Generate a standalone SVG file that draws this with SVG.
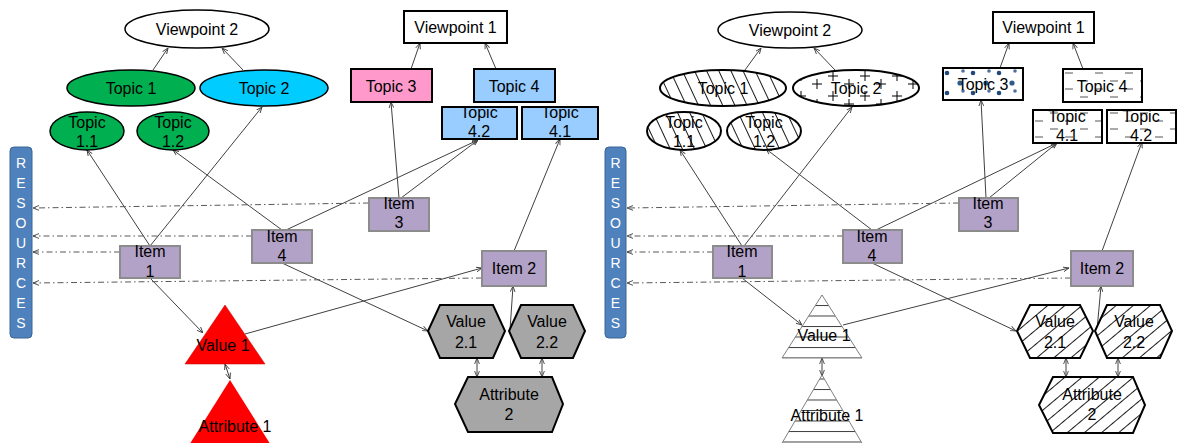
<svg xmlns="http://www.w3.org/2000/svg" width="1177" height="443" viewBox="0 0 1177 443">
<style>
.t{font-family:"Liberation Sans",Arial,sans-serif;font-size:16px;fill:#000;text-anchor:middle}
.r{font-family:"Liberation Sans",Arial,sans-serif;font-size:14px;fill:#fff;text-anchor:middle}
.c{stroke:#404040;stroke-width:1;fill:none;marker-end:url(#ah)}
.b{stroke:#404040;stroke-width:1;fill:none;marker-end:url(#ah);marker-start:url(#ah)}
.d{stroke:#595959;stroke-width:1;fill:none;stroke-dasharray:6 3 1.5 3;marker-end:url(#ah)}
.k{stroke:#000;stroke-width:2}
.k1{stroke:#000;stroke-width:1.5}
.item{fill:#B3A2C7;stroke:#8C8C8C;stroke-width:2}
.res{fill:#4F81BD;stroke:#3A6496;stroke-width:1}
.gr{fill:#A6A6A6;stroke:#000;stroke-width:2}
.tri{stroke:#7F7F7F;stroke-width:1}
</style>
<defs>
<marker id="ah" viewBox="0 0 10 10" refX="10" refY="5" markerWidth="6" markerHeight="6" orient="auto-start-reverse" markerUnits="userSpaceOnUse"><path d="M0,1 L10,5 L0,9" fill="none" stroke="#404040" stroke-width="1.5"/></marker>
<pattern id="hb" width="11" height="11" patternUnits="userSpaceOnUse" patternTransform="rotate(-25)"><rect width="11" height="11" fill="#fff"/><line x1="5.5" y1="0" x2="5.5" y2="11" stroke="#000" stroke-width="0.9"/></pattern>
<pattern id="hf" width="11" height="11" patternUnits="userSpaceOnUse" patternTransform="rotate(50)"><rect width="11" height="11" fill="#fff"/><line x1="5.5" y1="0" x2="5.5" y2="11" stroke="#000" stroke-width="0.9"/></pattern>
<pattern id="plus" width="32" height="20" patternUnits="userSpaceOnUse" x="795" y="70"><rect width="32" height="20" fill="#fff"/><path d="M6,1v10M1,6h10M22,9v10M17,14h10" stroke="#000" stroke-width="1"/></pattern>
<pattern id="dots" width="26" height="20" patternUnits="userSpaceOnUse" x="943" y="68"><rect width="26" height="20" fill="#fff"/><circle cx="4" cy="5" r="2.3" fill="#1F497D"/><circle cx="17" cy="15" r="2.6" fill="#2E5C8A"/><circle cx="20" cy="3" r="1.8" fill="#4F6FA0"/></pattern>
<pattern id="dash" width="30" height="16" patternUnits="userSpaceOnUse" x="1063" y="69"><rect width="30" height="16" fill="#fff"/><path d="M2,4h8M17,12h8" stroke="#555" stroke-width="1"/></pattern>
<pattern id="hl" width="20" height="10.5" patternUnits="userSpaceOnUse" y="0.5"><rect width="20" height="10.5" fill="#fff"/><line x1="0" y1="0.5" x2="20" y2="0.5" stroke="#404040" stroke-width="1"/></pattern>
</defs>

<g id="connectors">
<line class="c" x1="153" y1="70" x2="168" y2="48"/>
<line class="c" x1="243" y1="70" x2="222" y2="48"/>
<line class="c" x1="411" y1="69" x2="420" y2="43"/>
<line class="c" x1="496" y1="69" x2="485" y2="43"/>
<line class="c" x1="150" y1="246" x2="87" y2="150"/>
<line class="c" x1="150" y1="246" x2="262" y2="107"/>
<line class="c" x1="282" y1="230" x2="173" y2="150"/>
<line class="c" x1="286" y1="230" x2="478" y2="140"/>
<line class="c" x1="399" y1="198" x2="391" y2="102"/>
<line class="c" x1="401" y1="198" x2="478" y2="140"/>
<line class="c" x1="514" y1="251" x2="560" y2="139"/>
<line class="c" x1="150" y1="278" x2="203" y2="333"/>
<line class="c" x1="245" y1="334" x2="482" y2="268"/>
<line class="c" x1="282" y1="263" x2="428" y2="331"/>
<line class="c" x1="510" y1="330" x2="513" y2="286"/>
<line class="b" x1="225" y1="364" x2="230" y2="379"/>
<line class="b" x1="477" y1="358" x2="477" y2="377"/>
<line class="b" x1="542" y1="358" x2="542" y2="377"/>
<line class="d" x1="369" y1="203" x2="33" y2="208"/>
<line class="d" x1="252" y1="236" x2="33" y2="236"/>
<line class="d" x1="120" y1="252" x2="33" y2="252"/>
<line class="d" x1="482" y1="278" x2="33" y2="283"/>

<line class="c" x1="745" y1="70" x2="761" y2="48"/>
<line class="c" x1="835" y1="70" x2="814" y2="48"/>
<line class="c" x1="1000" y1="68" x2="1009" y2="43"/>
<line class="c" x1="1083" y1="69" x2="1073" y2="43"/>
<line class="c" x1="742" y1="246" x2="680" y2="150"/>
<line class="c" x1="744" y1="246" x2="852" y2="107"/>
<line class="c" x1="872" y1="230" x2="766" y2="149"/>
<line class="c" x1="876" y1="230" x2="1057" y2="143"/>
<line class="c" x1="986" y1="198" x2="981" y2="100"/>
<line class="c" x1="989" y1="198" x2="1057" y2="143"/>
<line class="c" x1="1102" y1="251" x2="1142" y2="142"/>
<line class="c" x1="742" y1="278" x2="802" y2="325"/>
<line class="c" x1="843" y1="325" x2="1069" y2="268"/>
<line class="c" x1="872" y1="263" x2="1016" y2="331"/>
<line class="c" x1="1097" y1="330" x2="1101" y2="286"/>
<line class="b" x1="822" y1="358" x2="822" y2="376"/>
<line class="b" x1="1066" y1="358" x2="1066" y2="377"/>
<line class="b" x1="1118" y1="358" x2="1118" y2="377"/>
<line class="d" x1="959" y1="203" x2="627" y2="208"/>
<line class="d" x1="843" y1="236" x2="627" y2="236"/>
<line class="d" x1="713" y1="252" x2="627" y2="252"/>
<line class="d" x1="1071" y1="278" x2="627" y2="283"/>
</g>

<!-- LEFT PANEL -->
<g id="L-viewpoint2"><ellipse cx="197" cy="29" rx="72" ry="19" fill="#fff" class="k1"/><text class="t" x="197" y="35">Viewpoint 2</text></g>
<g id="L-topic1"><ellipse cx="131" cy="88" rx="64" ry="18" fill="#00B050" class="k1"/><text class="t" x="131" y="94">Topic 1</text></g>
<g id="L-topic2"><ellipse cx="264" cy="88" rx="64" ry="18" fill="#00CCFF" class="k1"/><text class="t" x="264" y="94">Topic 2</text></g>
<g id="L-topic11"><ellipse cx="87" cy="131" rx="37" ry="19" fill="#00B050" class="k1"/><text class="t" x="87" y="128">Topic</text><text class="t" x="87" y="147">1.1</text></g>
<g id="L-topic12"><ellipse cx="173" cy="131" rx="36" ry="19" fill="#00B050" class="k1"/><text class="t" x="173" y="128">Topic</text><text class="t" x="173" y="147">1.2</text></g>
<g id="L-viewpoint1"><rect x="404" y="11" width="103" height="32" fill="#fff" class="k"/><text class="t" x="455.5" y="33">Viewpoint 1</text></g>
<g id="L-topic3"><rect x="351" y="69" width="81" height="33" fill="#FF99CC" class="k"/><text class="t" x="391" y="92">Topic 3</text></g>
<g id="L-topic4"><rect x="474" y="69" width="81" height="33" fill="#99CCFF" class="k"/><text class="t" x="514" y="92">Topic 4</text></g>
<g id="L-topic42"><rect x="442" y="107" width="75" height="32" fill="#99CCFF" class="k"/><text class="t" x="479" y="118">Topic</text><text class="t" x="479" y="137">4.2</text></g>
<g id="L-topic41"><rect x="522" y="107" width="76" height="32" fill="#99CCFF" class="k"/><text class="t" x="560" y="118">Topic</text><text class="t" x="560" y="137">4.1</text></g>
<g id="L-resources"><rect x="10" y="147" width="22" height="191" rx="4" class="res"/>
<text class="r" x="21" y="168">R</text><text class="r" x="21" y="188">E</text><text class="r" x="21" y="208">S</text><text class="r" x="21" y="228">O</text><text class="r" x="21" y="248">U</text><text class="r" x="21" y="268">R</text><text class="r" x="21" y="288">C</text><text class="r" x="21" y="308">E</text><text class="r" x="21" y="328">S</text></g>
<g id="L-item1"><rect x="120" y="246" width="60" height="32" class="item"/><text class="t" x="150" y="257">Item</text><text class="t" x="150" y="277">1</text></g>
<g id="L-item4"><rect x="252" y="230" width="60" height="33" class="item"/><text class="t" x="282" y="242">Item</text><text class="t" x="282" y="261">4</text></g>
<g id="L-item3"><rect x="369" y="198" width="60" height="33" class="item"/><text class="t" x="399" y="209">Item</text><text class="t" x="399" y="228">3</text></g>
<g id="L-item2"><rect x="482" y="251" width="64" height="35" class="item"/><text class="t" x="514" y="274">Item 2</text></g>
<g id="L-value1"><polygon points="225,305 265,364 185,364" fill="#FF0000" stroke="#C00000" stroke-width="0.5"/><text class="t" x="223" y="351">Value 1</text></g>
<g id="L-attribute1"><polygon points="230,380 274,450 186,450" fill="#FF0000"/><text class="t" x="235" y="432">Attribute 1</text></g>
<g id="L-value21"><polygon points="440,305 493,305 505,331 493,358 440,358 428,331" class="gr"/><text class="t" x="466" y="327">Value</text><text class="t" x="466" y="348">2.1</text></g>
<g id="L-value22"><polygon points="521,305 573,305 585,331 573,358 521,358 509,331" class="gr"/><text class="t" x="547" y="327">Value</text><text class="t" x="547" y="348">2.2</text></g>
<g id="L-attribute2"><polygon points="468,377 552,377 563,404 552,432 468,432 455,404" class="gr"/><text class="t" x="509" y="400">Attribute</text><text class="t" x="509" y="420">2</text></g>

<!-- RIGHT PANEL -->
<g id="R-viewpoint2"><ellipse cx="790" cy="30" rx="72" ry="18" fill="#fff" class="k1"/><text class="t" x="790" y="36">Viewpoint 2</text></g>
<g id="R-topic1"><ellipse cx="723" cy="88" rx="63" ry="18" fill="url(#hb)" class="k"/><text class="t" x="723" y="94">Topic 1</text></g>
<g id="R-topic2"><ellipse cx="856" cy="88" rx="63" ry="18" fill="url(#plus)" class="k"/><text class="t" x="856" y="94">Topic 2</text></g>
<g id="R-topic11"><ellipse cx="684" cy="131" rx="37" ry="19" fill="url(#hb)" class="k"/><text class="t" x="684" y="128">Topic</text><text class="t" x="684" y="147">1.1</text></g>
<g id="R-topic12"><ellipse cx="764" cy="131" rx="37" ry="19" fill="url(#hb)" class="k"/><text class="t" x="764" y="128">Topic</text><text class="t" x="764" y="147">1.2</text></g>
<g id="R-viewpoint1"><rect x="993" y="12" width="101" height="31" fill="#fff" class="k"/><text class="t" x="1043.5" y="33">Viewpoint 1</text></g>
<g id="R-topic3"><rect x="943" y="68" width="80" height="32" fill="url(#dots)" class="k"/><text class="t" x="983" y="90">Topic 3</text></g>
<g id="R-topic4"><rect x="1063" y="69" width="79" height="33" fill="url(#dash)" class="k"/><text class="t" x="1102" y="92">Topic 4</text></g>
<g id="R-topic41"><rect x="1033" y="110" width="69" height="33" fill="url(#dash)" class="k"/><text class="t" x="1067" y="122">Topic</text><text class="t" x="1067" y="141">4.1</text></g>
<g id="R-topic42"><rect x="1107" y="110" width="69" height="33" fill="url(#dash)" class="k"/><text class="t" x="1141" y="122">Topic</text><text class="t" x="1141" y="141">4.2</text></g>
<g id="R-resources"><rect x="605" y="147" width="21" height="191" rx="4" class="res"/>
<text class="r" x="615.5" y="168">R</text><text class="r" x="615.5" y="188">E</text><text class="r" x="615.5" y="208">S</text><text class="r" x="615.5" y="228">O</text><text class="r" x="615.5" y="248">U</text><text class="r" x="615.5" y="268">R</text><text class="r" x="615.5" y="288">C</text><text class="r" x="615.5" y="308">E</text><text class="r" x="615.5" y="328">S</text></g>
<g id="R-item1"><rect x="713" y="246" width="59" height="32" class="item"/><text class="t" x="742" y="257">Item</text><text class="t" x="742" y="277">1</text></g>
<g id="R-item4"><rect x="843" y="230" width="59" height="33" class="item"/><text class="t" x="872" y="242">Item</text><text class="t" x="872" y="261">4</text></g>
<g id="R-item3"><rect x="959" y="198" width="59" height="33" class="item"/><text class="t" x="988" y="209">Item</text><text class="t" x="988" y="228">3</text></g>
<g id="R-item2"><rect x="1071" y="251" width="62" height="35" class="item"/><text class="t" x="1102" y="274">Item 2</text></g>
<g id="R-value1"><polygon points="822,295 862,358 782,358" fill="url(#hl)" class="tri"/><text class="t" x="824" y="341">Value 1</text></g>
<g id="R-attribute1"><polygon points="822,375 866,450 778,450" fill="url(#hl)" class="tri"/><text class="t" x="827" y="421">Attribute 1</text></g>
<g id="R-value21"><polygon points="1030,305 1080,305 1093,331 1080,358 1030,358 1017,331" fill="url(#hf)" class="k"/><text class="t" x="1055" y="327">Value</text><text class="t" x="1055" y="348">2.1</text></g>
<g id="R-value22"><polygon points="1107,305 1160,305 1172,331 1160,358 1107,358 1095,331" fill="url(#hf)" class="k"/><text class="t" x="1134" y="327">Value</text><text class="t" x="1134" y="348">2.2</text></g>
<g id="R-attribute2"><polygon points="1053,377 1133,377 1145,405 1133,433 1053,433 1039,405" fill="url(#hf)" class="k"/><text class="t" x="1092" y="400">Attribute</text><text class="t" x="1092" y="420">2</text></g>
</svg>
